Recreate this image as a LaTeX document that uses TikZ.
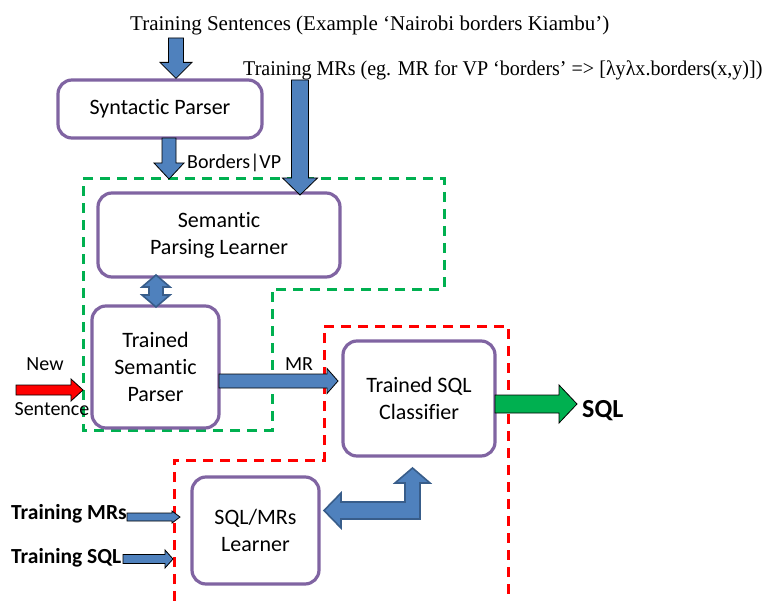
\documentclass[tikz,border=0pt]{standalone}
\usepackage{fontspec}
\setmainfont{Liberation Serif}
\newfontfamily\boxfont{Carlito}[Ligatures=NoCommon]
\usetikzlibrary{calc}

\definecolor{boxpurple}{HTML}{8064A2}
\definecolor{arrowblue}{HTML}{4F81BD}
\definecolor{arrowedge}{HTML}{385D8A}
\definecolor{okgreen}{HTML}{00B050}

% Block arrow: style, from, to, shaft half-width, head half-width, head length
\newcommand\blockarrow[6]{%
  \coordinate (babase) at ($(#3)!#6!(#2)$);
  \path[#1] ($(#2)!#4!90:(#3)$) -- ($(babase)!#4!90:(#3)$)
    -- ($(babase)!#5!90:(#3)$) -- (#3) -- ($(babase)!#5!-90:(#3)$)
    -- ($(babase)!#4!-90:(#3)$) -- ($(#2)!#4!-90:(#3)$) -- cycle;}

% Block arrow with a head at both ends
\newcommand\doubleblockarrow[6]{%
  \coordinate (dbA) at ($(#2)!#6!(#3)$);
  \coordinate (dbB) at ($(#3)!#6!(#2)$);
  \path[#1] (#2) -- ($(dbA)!#5!90:(#3)$) -- ($(dbA)!#4!90:(#3)$)
    -- ($(dbB)!#4!-90:(#2)$) -- ($(dbB)!#5!-90:(#2)$) -- (#3)
    -- ($(dbB)!#5!90:(#2)$) -- ($(dbB)!#4!90:(#2)$)
    -- ($(dbA)!#4!-90:(#3)$) -- ($(dbA)!#5!-90:(#3)$) -- cycle;}

\tikzset{
  procbox/.style={draw=boxpurple, line width=3.2pt, rounded corners=14pt, fill=white,
    align=center, font=\boxfont\fontsize{22}{27}\selectfont, inner sep=0pt},
  bluearrow/.style={fill=arrowblue, draw=black, line width=0.8pt, line join=miter},
  dblarrow/.style={fill=arrowblue, draw=arrowedge, line width=1.6pt, line join=miter},
  redarrow/.style={fill=red, draw=black, line width=0.8pt},
  greenarrow/.style={fill=okgreen, draw=black, line width=0.8pt},
  greendash/.style={draw=okgreen, line width=3pt, dash pattern=on 10pt off 7pt},
  reddash/.style={draw=red, line width=3pt, dash pattern=on 10pt off 7pt},
  serifnote/.style={font=\fontsize{21}{25}\selectfont, inner sep=0pt},
  sanslabel/.style={font=\boxfont\fontsize{20}{24}\selectfont, inner sep=0pt},
  boldlabel/.style={font=\boxfont\bfseries\fontsize{21.5}{25}\selectfont, inner sep=0pt}
}

\begin{document}
\begin{tikzpicture}[x=1pt, y=-1pt]
\useasboundingbox (0,0) rectangle (775,601);

% dashed groupings
\draw[greendash] (83,179) -- (444,179) -- (444,289) -- (272,289) -- (272,430) -- (83,430) -- cycle;
\draw[reddash] (174,601) -- (174,460) -- (324,460) -- (324,326) -- (508,326) -- (508,601);

% process boxes
\node[procbox, minimum width=204pt, minimum height=58pt] (synt) at (160,109) {Syntactic Parser};
\node[procbox, minimum width=242pt, minimum height=84pt] (spl) at (219,235) {Semantic\\Parsing Learner};
\node[procbox, minimum width=127pt, minimum height=122pt] (tsp) at (155.5,367) {Trained\\Semantic\\Parser};
\node[procbox, minimum width=152pt, minimum height=115pt] (tsc) at (419,398.5) {Trained SQL\\Classifier};
\node[procbox, minimum width=127pt, minimum height=107pt] (lrn) at (255.5,530.5) {SQL/MRs\\Learner};

% input notes
\node[serifnote, anchor=base west] (tsent) at (130,31)
  {Training Sentences (Example ‘Nairobi borders Kiambu’)};
\node[serifnote, anchor=base west] (tmr) at (243,76)
  {\scalebox{0.955}[1]{Training MRs (eg. MR for VP ‘borders’ => [λyλx.borders(x,y)])}};

\node[sanslabel, anchor=west] (bvp) at (187,163) {Borders|VP};
\node[sanslabel] (mrlab) at (299,364) {MR};
\node[sanslabel] (newlab) at (45,364) {New};
\node[sanslabel] (sentlab) at (52,409) {Sentence};
\node[boldlabel, anchor=west] (trmr) at (11,514) {Training MRs};
\node[boldlabel, anchor=west] (trsql) at (11,558) {Training SQL};
\node[font=\boxfont\bfseries\fontsize{26}{30}\selectfont, inner sep=0pt, anchor=west] (sql) at (582,411) {SQL};

% connector end points
\coordinate (a1s) at (176,38);
\coordinate (a1e) at (synt.north -| a1s);
\coordinate (a2s) at (300,80);
\coordinate (a2e) at (300,195);
\coordinate (a3s) at (169,138);
\coordinate (a3e) at (169,179);
\coordinate (d1s) at (156,275);
\coordinate (d1e) at (156,307);
\coordinate (news) at (16,390);
\coordinate (newe) at (83,390);
\coordinate (mrs) at (219,381);
\coordinate (mre) at (338,381);
\coordinate (sqls) at (495,404);
\coordinate (sqle) at (577,404);
\coordinate (tmrs) at (127,517);
\coordinate (tmre) at (180,517);
\coordinate (tsqs) at (123,559);
\coordinate (tsqe) at (173,559);

% connectors
\blockarrow{bluearrow}{a1s}{a1e}{7.5pt}{16pt}{16pt}
\blockarrow{bluearrow}{a2s}{a2e}{8.5pt}{17.5pt}{17pt}
\blockarrow{bluearrow}{a3s}{a3e}{7pt}{15pt}{16pt}
\doubleblockarrow{dblarrow}{d1s}{d1e}{7pt}{14pt}{12pt}
\blockarrow{redarrow}{news}{newe}{5pt}{11pt}{12pt}
\blockarrow{bluearrow}{mrs}{mre}{7pt}{12.5pt}{11pt}
\blockarrow{greenarrow}{sqls}{sqle}{9pt}{19pt}{18pt}
\blockarrow{bluearrow}{tmrs}{tmre}{4pt}{6pt}{8pt}
\blockarrow{bluearrow}{tsqs}{tsqe}{4.5pt}{9pt}{8pt}

% bent two-way arrow between the learner and the classifier
\path[dblarrow] (324,510.5) -- (341,493) -- (341,502) -- (405,502) -- (405,483)
  -- (395,483) -- (412.5,468) -- (430,483) -- (420,483) -- (420,519)
  -- (341,519) -- (341,528) -- cycle;
\end{tikzpicture}
\end{document}
